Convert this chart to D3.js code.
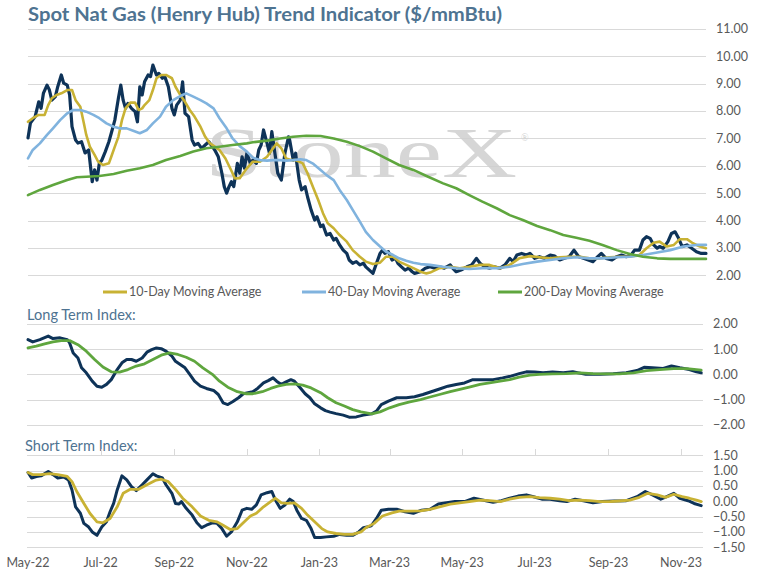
<!DOCTYPE html>
<html lang="en">
<head>
    <meta charset="UTF-8">
    <title>Spot Nat Gas Trend Indicator</title>
    <script src="https://d3js.org/d3.v7.min.js"></script>
    <style>
        body { margin: 0; background: #ffffff; }
        text { font-family: Lato, "Open Sans", sans-serif; }
    </style>
</head>
<body>
<div id="chart"></div>
<script>
// ---- data ----
var spot = [
["2022-05-01",7.02],["2022-05-03",7.56],["2022-05-07",7.80],["2022-05-10",8.34],["2022-05-12",8.10],["2022-05-14",8.66],["2022-05-17",8.95],["2022-05-19",8.77],["2022-05-21",8.40],["2022-05-24",8.53],["2022-05-26",8.89],["2022-05-29",9.32],["2022-05-31",9.02],
["2022-06-03",8.95],["2022-06-05",8.59],["2022-06-07",7.43],["2022-06-10",6.94],["2022-06-12",6.83],["2022-06-15",6.88],["2022-06-18",6.47],["2022-06-21",6.58],["2022-06-24",5.42],["2022-06-26",5.85],["2022-06-28",5.48],["2022-06-30",6.10],
["2022-07-02",6.20],["2022-07-05",6.52],["2022-07-08",6.88],["2022-07-10",7.19],["2022-07-13",7.67],["2022-07-16",8.47],["2022-07-18",8.95],["2022-07-20",8.40],["2022-07-22",8.10],["2022-07-24",8.28],["2022-07-27",8.10],["2022-07-30",7.98],
["2022-08-01",7.61],["2022-08-03",8.89],["2022-08-05",8.59],["2022-08-07",9.07],["2022-08-10",9.32],["2022-08-12",9.26],["2022-08-14",9.68],["2022-08-17",9.32],["2022-08-19",9.38],["2022-08-22",9.20],["2022-08-24",9.26],["2022-08-27",8.89],["2022-08-30",8.10],
["2022-09-01",7.86],["2022-09-03",8.22],["2022-09-06",8.40],["2022-09-08",9.07],["2022-09-10",7.92],["2022-09-13",7.80],["2022-09-16",6.94],["2022-09-18",6.76],["2022-09-21",6.82],["2022-09-24",6.64],["2022-09-27",6.76],["2022-09-30",6.88],
["2022-10-03",6.70],["2022-10-05",6.58],["2022-10-08",6.33],["2022-10-11",5.73],["2022-10-13",5.24],["2022-10-15",5.00],["2022-10-17",5.24],["2022-10-19",5.42],["2022-10-21",5.24],["2022-10-24",6.09],["2022-10-26",5.73],["2022-10-28",6.33],["2022-10-30",5.91],
["2022-11-01",6.46],["2022-11-04",6.09],["2022-11-06",6.21],["2022-11-09",6.09],["2022-11-11",6.58],["2022-11-13",6.76],["2022-11-15",7.31],["2022-11-18",6.82],["2022-11-20",6.46],["2022-11-22",7.25],["2022-11-25",6.33],["2022-11-27",5.73],["2022-11-30",5.48],
["2022-12-03",6.46],["2022-12-06",7.06],["2022-12-07",6.94],["2022-12-10",6.21],["2022-12-12",6.46],["2022-12-13",6.09],["2022-12-15",5.48],["2022-12-17",5.12],["2022-12-20",5.24],["2022-12-22",4.87],["2022-12-25",4.39],["2022-12-28",4.02],["2022-12-30",4.14],
["2023-01-02",3.78],["2023-01-04",3.84],["2023-01-07",3.47],["2023-01-10",3.53],["2023-01-13",3.29],["2023-01-15",3.35],["2023-01-18",3.11],["2023-01-21",2.92],["2023-01-24",2.80],["2023-01-26",2.56],["2023-01-29",2.44],
["2023-02-01",2.50],["2023-02-04",2.38],["2023-02-07",2.44],["2023-02-09",2.31],["2023-02-12",2.19],["2023-02-15",2.07],["2023-02-18",2.44],["2023-02-21",2.80],["2023-02-23",2.92],["2023-02-25",2.80],["2023-02-28",2.86],
["2023-03-03",2.56],["2023-03-06",2.62],["2023-03-08",2.44],["2023-03-11",2.31],["2023-03-14",2.19],["2023-03-17",2.26],["2023-03-20",2.13],["2023-03-22",2.07],["2023-03-27",2.13],["2023-03-31",2.26],
["2023-04-04",2.31],["2023-04-08",2.26],["2023-04-12",2.31],["2023-04-16",2.26],["2023-04-21",2.38],["2023-04-23",2.26],["2023-04-26",2.13],["2023-04-30",2.19],
["2023-05-05",2.31],["2023-05-09",2.38],["2023-05-13",2.62],["2023-05-16",2.44],["2023-05-20",2.31],["2023-05-24",2.26],["2023-05-28",2.31],
["2023-06-02",2.26],["2023-06-06",2.38],["2023-06-10",2.62],["2023-06-13",2.50],["2023-06-16",2.74],["2023-06-20",2.80],["2023-06-24",2.74],["2023-06-27",2.80],
["2023-07-01",2.62],["2023-07-05",2.68],["2023-07-09",2.62],["2023-07-14",2.74],["2023-07-18",2.70],["2023-07-22",2.56],["2023-07-26",2.62],["2023-07-30",2.68],
["2023-08-03",2.92],["2023-08-07",2.68],["2023-08-11",2.62],["2023-08-15",2.56],["2023-08-19",2.50],["2023-08-23",2.68],["2023-08-26",2.80],["2023-08-30",2.62],
["2023-09-04",2.56],["2023-09-08",2.68],["2023-09-12",2.74],["2023-09-16",2.68],["2023-09-20",2.74],["2023-09-23",2.92],["2023-09-27",2.92],["2023-09-30",3.29],
["2023-10-03",3.41],["2023-10-06",3.35],["2023-10-09",3.11],["2023-10-12",2.99],["2023-10-14",3.05],["2023-10-17",2.99],["2023-10-21",3.23],["2023-10-24",3.53],["2023-10-27",3.59],["2023-10-30",3.35],
["2023-11-02",3.05],["2023-11-06",3.11],["2023-11-10",2.99],["2023-11-14",2.86],["2023-11-18",2.80],["2023-11-22",2.80]
];

var ma10 = [
["2022-05-01",7.61],["2022-05-05",7.74],["2022-05-10",7.86],["2022-05-12",7.86],["2022-05-15",7.86],["2022-05-18",8.22],["2022-05-21",8.47],["2022-05-25",8.59],["2022-05-29",8.65],
["2022-06-03",8.77],["2022-06-07",8.77],["2022-06-10",8.40],["2022-06-14",8.16],["2022-06-17",7.55],["2022-06-19",7.13],["2022-06-22",6.70],["2022-06-26",6.40],["2022-06-29",6.15],
["2022-07-03",6.03],["2022-07-08",6.09],["2022-07-10",6.33],["2022-07-13",6.70],["2022-07-16",7.06],["2022-07-19",7.67],["2022-07-22",8.10],["2022-07-26",8.31],["2022-07-30",8.31],
["2022-08-02",8.04],["2022-08-05",8.10],["2022-08-07",8.22],["2022-08-11",8.40],["2022-08-14",8.77],["2022-08-17",9.20],["2022-08-21",9.32],["2022-08-25",9.32],["2022-08-30",9.20],
["2022-09-02",8.89],["2022-09-06",8.59],["2022-09-10",8.34],["2022-09-14",8.04],["2022-09-18",7.80],["2022-09-23",7.43],["2022-09-27",7.06],
["2022-10-01",6.82],["2022-10-05",6.70],["2022-10-09",6.58],["2022-10-14",6.27],["2022-10-18",5.91],["2022-10-22",5.54],["2022-10-26",5.55],
["2022-11-01",5.91],["2022-11-06",6.15],["2022-11-12",6.15],["2022-11-18",6.33],["2022-11-22",6.58],["2022-11-26",6.82],["2022-11-30",6.64],
["2022-12-04",6.27],["2022-12-08",6.21],["2022-12-12",6.21],["2022-12-18",6.09],["2022-12-22",5.73],["2022-12-27",5.18],["2022-12-31",4.75],
["2023-01-04",4.27],["2023-01-08",3.90],["2023-01-13",3.72],["2023-01-18",3.47],["2023-01-24",3.23],["2023-01-29",2.92],
["2023-02-04",2.68],["2023-02-09",2.50],["2023-02-15",2.41],["2023-02-21",2.46],["2023-02-26",2.68],
["2023-03-04",2.68],["2023-03-09",2.50],["2023-03-15",2.38],["2023-03-21",2.26],["2023-03-27",2.13],
["2023-04-01",2.07],["2023-04-04",2.10],["2023-04-12",2.26],["2023-04-21",2.31],["2023-04-29",2.26],
["2023-05-07",2.31],["2023-05-16",2.38],["2023-05-24",2.38],["2023-06-02",2.26],["2023-06-10",2.38],["2023-06-18",2.62],["2023-06-27",2.70],
["2023-07-05",2.66],["2023-07-14",2.62],["2023-07-22",2.66],["2023-07-30",2.68],["2023-08-08",2.68],["2023-08-16",2.62],["2023-08-25",2.62],
["2023-09-02",2.66],["2023-09-10",2.68],["2023-09-19",2.68],["2023-09-27",2.74],
["2023-10-03",2.99],["2023-10-09",3.19],["2023-10-14",3.23],["2023-10-20",3.05],["2023-10-26",3.11],["2023-10-31",3.32],
["2023-11-06",3.32],["2023-11-11",3.17],["2023-11-17",3.05],["2023-11-22",2.99]
];

var ma40 = [
["2022-05-01",6.27],["2022-05-05",6.58],["2022-05-11",6.82],["2022-05-17",7.13],["2022-05-22",7.37],["2022-05-28",7.67],
["2022-06-03",7.92],["2022-06-08",8.04],["2022-06-14",8.04],["2022-06-19",7.98],["2022-06-25",7.86],["2022-06-30",7.74],
["2022-07-06",7.55],["2022-07-12",7.43],["2022-07-17",7.37],["2022-07-23",7.37],["2022-07-29",7.27],
["2022-08-03",7.19],["2022-08-09",7.31],["2022-08-14",7.55],["2022-08-20",7.80],["2022-08-25",8.16],["2022-08-31",8.40],
["2022-09-06",8.55],["2022-09-11",8.65],["2022-09-17",8.53],["2022-09-23",8.40],["2022-09-28",8.28],
["2022-10-04",8.10],["2022-10-09",7.74],["2022-10-15",7.37],["2022-10-20",7.00],["2022-10-26",6.72],
["2022-11-01",6.52],["2022-11-06",6.30],["2022-11-12",6.21],["2022-11-18",6.19],["2022-11-23",6.21],["2022-11-29",6.21],
["2022-12-04",6.19],["2022-12-10",6.21],["2022-12-16",6.24],["2022-12-21",6.21],["2022-12-27",6.07],
["2023-01-02",5.85],["2023-01-07",5.66],["2023-01-13",5.48],["2023-01-18",5.12],["2023-01-24",4.75],["2023-01-29",4.39],
["2023-02-04",3.96],["2023-02-09",3.59],["2023-02-15",3.29],["2023-02-21",3.05],["2023-02-26",2.86],
["2023-03-04",2.74],["2023-03-09",2.62],["2023-03-15",2.53],["2023-03-21",2.46],["2023-03-27",2.41],
["2023-04-04",2.38],["2023-04-15",2.31],["2023-04-26",2.26],["2023-05-07",2.23],["2023-05-18",2.26],["2023-05-30",2.26],
["2023-06-10",2.31],["2023-06-21",2.41],["2023-07-03",2.50],["2023-07-14",2.56],["2023-07-25",2.62],
["2023-08-05",2.66],["2023-08-16",2.62],["2023-08-27",2.62],["2023-09-08",2.66],["2023-09-19",2.68],["2023-09-30",2.74],
["2023-10-12",2.83],["2023-10-23",2.92],["2023-11-03",3.05],["2023-11-14",3.11],["2023-11-22",3.11]
];

var ma200 = [
["2022-05-01",4.93],["2022-05-11",5.12],["2022-05-22",5.30],["2022-06-03",5.48],["2022-06-11",5.58],["2022-06-19",5.60],["2022-06-30",5.63],
["2022-07-12",5.70],["2022-07-23",5.82],["2022-08-03",5.91],["2022-08-14",6.03],["2022-08-25",6.21],["2022-09-06",6.36],["2022-09-17",6.52],["2022-09-28",6.64],
["2022-10-09",6.70],["2022-10-20",6.76],["2022-11-01",6.82],["2022-11-06",6.86],["2022-11-18",6.92],["2022-11-29",7.00],["2022-12-10",7.06],["2022-12-21",7.10],
["2023-01-02",7.09],["2023-01-13",7.00],["2023-01-24",6.88],["2023-02-04",6.72],["2023-02-15",6.52],["2023-02-26",6.27],["2023-03-09",6.03],["2023-03-21",5.85],
["2023-04-01",5.63],["2023-04-15",5.36],["2023-04-26",5.18],["2023-05-07",4.93],["2023-05-18",4.69],["2023-05-30",4.45],["2023-06-10",4.20],["2023-06-21",4.02],
["2023-07-03",3.80],["2023-07-14",3.65],["2023-07-25",3.47],["2023-08-05",3.37],["2023-08-16",3.26],["2023-08-27",3.11],["2023-09-08",2.92],["2023-09-19",2.78],["2023-09-30",2.68],
["2023-10-12",2.62],["2023-10-23",2.60],["2023-11-03",2.60],["2023-11-22",2.60]
];

var longIndex = [
["2022-05-01",1.38],["2022-05-05",1.29],["2022-05-11",1.38],["2022-05-18",1.52],["2022-05-22",1.42],["2022-05-28",1.45],
["2022-06-03",1.38],["2022-06-05",1.25],["2022-06-08",0.85],["2022-06-12",0.65],["2022-06-15",0.26],["2022-06-19",0.06],["2022-06-24",-0.27],["2022-06-28",-0.47],
["2022-07-02",-0.51],["2022-07-06",-0.40],["2022-07-10",-0.21],["2022-07-15",0.19],["2022-07-19",0.46],["2022-07-23",0.59],["2022-07-27",0.59],["2022-07-31",0.52],
["2022-08-05",0.65],["2022-08-09",0.88],["2022-08-13",0.98],["2022-08-17",1.05],["2022-08-21",1.02],["2022-08-25",0.92],["2022-08-30",0.72],
["2022-09-02",0.52],["2022-09-06",0.39],["2022-09-10",0.26],["2022-09-14",0.00],["2022-09-18",-0.27],["2022-09-23",-0.47],["2022-09-28",-0.56],
["2022-10-04",-0.64],["2022-10-08",-0.80],["2022-10-12",-1.13],["2022-10-16",-1.20],["2022-10-20",-1.09],["2022-10-25",-0.93],["2022-10-29",-0.77],
["2022-11-02",-0.73],["2022-11-06",-0.69],["2022-11-10",-0.56],["2022-11-15",-0.34],["2022-11-19",-0.25],["2022-11-23",-0.14],["2022-11-26",-0.27],["2022-11-30",-0.40],
["2022-12-04",-0.30],["2022-12-08",-0.21],["2022-12-11",-0.27],["2022-12-16",-0.54],["2022-12-20",-0.77],["2022-12-24",-0.93],["2022-12-28",-1.17],
["2023-01-02",-1.33],["2023-01-06",-1.44],["2023-01-10",-1.50],["2023-01-15",-1.56],["2023-01-21",-1.62],["2023-01-26",-1.70],
["2023-02-01",-1.69],["2023-02-07",-1.62],["2023-02-14",-1.57],["2023-02-18",-1.46],["2023-02-22",-1.20],["2023-02-28",-1.06],
["2023-03-07",-0.93],["2023-03-15",-0.93],["2023-03-22",-0.89],["2023-03-29",-0.80],["2023-04-05",-0.69],["2023-04-12",-0.58],["2023-04-19",-0.47],["2023-04-26",-0.40],
["2023-05-03",-0.34],["2023-05-10",-0.21],["2023-05-18",-0.21],["2023-05-27",-0.21],["2023-06-04",-0.14],["2023-06-11",-0.07],["2023-06-18",0.03],["2023-06-24",0.10],
["2023-07-01",0.09],["2023-07-08",0.06],["2023-07-16",0.09],["2023-07-25",0.06],["2023-08-02",0.10],["2023-08-13",0.00],["2023-08-25",0.00],
["2023-09-05",0.02],["2023-09-16",0.06],["2023-09-25",0.15],["2023-10-01",0.28],["2023-10-08",0.26],["2023-10-17",0.23],["2023-10-24",0.33],["2023-10-31",0.26],
["2023-11-08",0.19],["2023-11-14",0.10],["2023-11-18",0.06]
];

var longSignal = [
["2022-05-01",1.05],["2022-05-08",1.12],["2022-05-15",1.21],["2022-05-22",1.29],["2022-05-29",1.34],["2022-06-05",1.34],["2022-06-12",1.18],["2022-06-19",0.92],["2022-06-26",0.59],
["2022-07-03",0.29],["2022-07-10",0.10],["2022-07-17",0.09],["2022-07-24",0.19],["2022-07-31",0.33],["2022-08-07",0.42],["2022-08-14",0.59],["2022-08-21",0.76],["2022-08-28",0.85],
["2022-09-04",0.79],["2022-09-11",0.68],["2022-09-18",0.52],["2022-09-25",0.26],["2022-10-03",0.00],["2022-10-09",-0.27],["2022-10-16",-0.51],["2022-10-24",-0.69],["2022-10-31",-0.77],
["2022-11-06",-0.77],["2022-11-14",-0.69],["2022-11-21",-0.56],["2022-11-27",-0.47],["2022-12-04",-0.40],["2022-12-11",-0.38],["2022-12-18",-0.43],["2022-12-25",-0.54],
["2023-01-02",-0.73],["2023-01-08",-0.93],["2023-01-15",-1.13],["2023-01-22",-1.26],["2023-01-29",-1.40],["2023-02-05",-1.49],["2023-02-14",-1.57],["2023-02-21",-1.49],
["2023-03-01",-1.33],["2023-03-09",-1.20],["2023-03-18",-1.09],["2023-03-27",-1.00],["2023-04-04",-0.90],["2023-04-12",-0.80],["2023-04-21",-0.69],["2023-04-29",-0.60],
["2023-05-07",-0.51],["2023-05-16",-0.40],["2023-05-24",-0.34],["2023-06-02",-0.27],["2023-06-10",-0.21],["2023-06-18",-0.11],["2023-06-27",-0.03],
["2023-07-05",0.00],["2023-07-16",0.02],["2023-07-28",0.03],["2023-08-08",0.06],["2023-08-19",0.03],["2023-08-30",0.02],["2023-09-10",0.02],["2023-09-22",0.06],
["2023-10-03",0.15],["2023-10-14",0.19],["2023-10-26",0.23],["2023-11-06",0.23],["2023-11-14",0.19],["2023-11-18",0.17]
];

var shortIndex = [
["2022-05-01",0.94],["2022-05-04",0.76],["2022-05-08",0.81],["2022-05-12",0.83],["2022-05-18",0.97],["2022-05-22",0.87],["2022-05-26",0.76],["2022-05-31",0.79],
["2022-06-04",0.70],["2022-06-07",0.37],["2022-06-10",-0.18],["2022-06-14",-0.39],["2022-06-17",-0.72],["2022-06-21",-0.84],["2022-06-24",-1.00],["2022-06-28",-1.11],
["2022-07-02",-0.84],["2022-07-06",-0.67],["2022-07-09",-0.34],["2022-07-12",-0.07],["2022-07-15",0.37],["2022-07-19",0.83],["2022-07-23",0.70],["2022-07-27",0.48],["2022-07-31",0.35],
["2022-08-05",0.54],["2022-08-09",0.70],["2022-08-14",0.90],["2022-08-17",0.83],["2022-08-22",0.76],["2022-08-25",0.54],["2022-08-30",0.26],
["2022-09-02",-0.07],["2022-09-05",-0.09],["2022-09-07",-0.01],["2022-09-11",-0.23],["2022-09-16",-0.45],["2022-09-20",-0.70],["2022-09-24",-0.86],["2022-09-28",-0.78],
["2022-10-03",-0.70],["2022-10-07",-0.72],["2022-10-11",-0.89],["2022-10-15",-1.14],["2022-10-19",-1.00],["2022-10-24",-0.67],["2022-10-28",-0.29],
["2022-11-01",-0.23],["2022-11-05",-0.26],["2022-11-09",-0.12],["2022-11-13",0.21],["2022-11-18",0.28],["2022-11-22",0.32],["2022-11-25",0.04],["2022-11-29",-0.23],
["2022-12-03",-0.12],["2022-12-07",0.07],["2022-12-10",-0.01],["2022-12-13",-0.29],["2022-12-17",-0.56],["2022-12-21",-0.62],["2022-12-25",-0.89],["2022-12-28",-1.18],
["2023-01-02",-1.18],["2023-01-07",-1.16],["2023-01-13",-1.14],["2023-01-18",-1.08],["2023-01-24",-1.11],["2023-01-29",-1.11],
["2023-02-03",-1.00],["2023-02-07",-0.86],["2023-02-13",-0.81],["2023-02-14",-0.78],["2023-02-18",-0.56],["2023-02-22",-0.29],["2023-02-28",-0.26],
["2023-03-07",-0.26],["2023-03-14",-0.34],["2023-03-21",-0.39],["2023-03-28",-0.29],["2023-04-04",-0.26],["2023-04-11",-0.09],["2023-04-18",-0.05],["2023-04-25",-0.01],
["2023-05-03",-0.01],["2023-05-11",0.10],["2023-05-18",0.04],["2023-05-27",-0.03],["2023-06-03",0.02],["2023-06-10",0.10],["2023-06-17",0.17],["2023-06-24",0.21],["2023-06-30",0.15],
["2023-07-07",0.07],["2023-07-14",0.07],["2023-07-22",0.02],["2023-07-28",-0.01],["2023-08-04",0.07],["2023-08-11",0.02],["2023-08-19",-0.05],["2023-08-27",-0.01],
["2023-09-06",0.01],["2023-09-16",0.02],["2023-09-25",0.15],["2023-10-02",0.32],["2023-10-08",0.21],["2023-10-15",0.07],["2023-10-20",0.15],["2023-10-26",0.26],["2023-10-31",0.10],
["2023-11-07",0.02],["2023-11-12",-0.07],["2023-11-18",-0.14]
];

var shortSignal = [
["2022-05-01",0.94],["2022-05-05",0.87],["2022-05-12",0.87],["2022-05-19",0.90],["2022-05-26",0.87],["2022-06-03",0.81],["2022-06-07",0.64],["2022-06-11",0.32],
["2022-06-17",-0.07],["2022-06-22",-0.39],["2022-06-28",-0.67],["2022-07-03",-0.70],["2022-07-09",-0.56],["2022-07-15",-0.18],["2022-07-20",0.26],["2022-07-26",0.39],
["2022-08-02",0.39],["2022-08-09",0.54],["2022-08-16",0.68],["2022-08-21",0.72],["2022-08-27",0.64],["2022-09-02",0.39],["2022-09-08",0.10],["2022-09-16",-0.18],
["2022-09-23",-0.48],["2022-09-30",-0.62],["2022-10-07",-0.67],["2022-10-12",-0.78],["2022-10-18",-0.92],["2022-10-24",-0.89],["2022-10-29",-0.70],
["2022-11-04",-0.48],["2022-11-09",-0.39],["2022-11-15",-0.18],["2022-11-21",-0.01],["2022-11-25",0.10],["2022-11-30",-0.05],
["2022-12-05",-0.07],["2022-12-11",-0.05],["2022-12-17",-0.23],["2022-12-22",-0.45],["2022-12-28",-0.67],
["2023-01-03",-0.89],["2023-01-08",-1.00],["2023-01-15",-1.05],["2023-01-22",-1.08],["2023-01-29",-1.08],["2023-02-05",-1.00],["2023-02-09",-0.86],["2023-02-16",-0.72],["2023-02-23",-0.48],
["2023-03-03",-0.38],["2023-03-09",-0.32],["2023-03-18",-0.32],["2023-03-27",-0.31],["2023-04-04",-0.26],["2023-04-12",-0.18],["2023-04-21",-0.09],["2023-04-29",-0.05],
["2023-05-07",-0.01],["2023-05-16",0.04],["2023-05-24",0.02],["2023-06-02",-0.01],["2023-06-10",0.07],["2023-06-18",0.13],["2023-06-27",0.15],
["2023-07-05",0.12],["2023-07-14",0.10],["2023-07-22",0.07],["2023-07-30",0.02],["2023-08-08",0.04],["2023-08-16",0.02],["2023-08-25",-0.01],
["2023-09-02",-0.01],["2023-09-10",0.01],["2023-09-19",0.04],["2023-09-27",0.13],["2023-10-04",0.26],["2023-10-12",0.21],["2023-10-19",0.13],["2023-10-26",0.23],
["2023-11-02",0.15],["2023-11-08",0.10],["2023-11-14",0.04],["2023-11-18",-0.01]
];

var priceTicks = [2, 3, 4, 5, 6, 7, 8, 9, 10, 11];
var longTicks = [-2, -1, 0, 1, 2];
var shortTicks = [-1.5, -1, -0.5, 0, 0.5, 1, 1.5];
var dateTicks = ["2022-05-01","2022-07-01","2022-09-01","2022-11-01","2023-01-01","2023-03-01","2023-05-01","2023-07-01","2023-09-01","2023-11-01"];
var legendNames = ["10-Day Moving Average", "40-Day Moving Average", "200-Day Moving Average"];

// ---- drawing ----
var width = 758, height = 576;
var parse = d3.timeParse("%Y-%m-%d");
var navy = "#0e3358", gold = "#c8b234", blue = "#80b3de", green = "#5fa63e";
var grid = "#d9d9d9", labelColor = "#595959", headColor = "#4e7391";

var svg = d3.select("#chart").append("svg")
    .attr("width", width)
    .attr("height", height);

var x = d3.scaleTime()
    .domain([parse("2022-05-01"), parse("2023-11-01")])
    .range([28, 681]);

var yPrice = d3.scaleLinear().domain([2, 11]).range([275.3, 29]);
var yLong = d3.scaleLinear().domain([-2, 2]).range([424.7, 324]);
var yShort = d3.scaleLinear().domain([-1.5, 1.5]).range([547.3, 455.3]);

function gridLines(scale, ticks, x0, x1, labelX) {
    var g = svg.append("g");
    g.selectAll("line").data(ticks).enter().append("line")
        .attr("x1", x0).attr("x2", x1)
        .attr("y1", function (d) { return Math.round(scale(d)) + 0.5; })
        .attr("y2", function (d) { return Math.round(scale(d)) + 0.5; })
        .attr("stroke", grid)
        .attr("stroke-width", 1);
    g.selectAll("text").data(ticks).enter().append("text")
        .attr("x", labelX)
        .attr("y", function (d) { return scale(d); })
        .attr("dy", "0.35em")
        .style("font-size", "12.5px")
        .style("fill", labelColor)
        .text(function (d) { return d3.format(".2f")(d); });
}

function drawLine(data, scale, color, w) {
    var line = d3.line()
        .x(function (d) { return x(parse(d[0])); })
        .y(function (d) { return scale(d[1]); });
    svg.append("path")
        .datum(data)
        .attr("d", line)
        .attr("fill", "none")
        .attr("stroke", color)
        .attr("stroke-width", w)
        .attr("stroke-linejoin", "round")
        .attr("stroke-linecap", "round");
}

// title
svg.append("text")
    .attr("x", 28)
    .attr("y", 21)
    .attr("textLength", 474)
    .attr("lengthAdjust", "spacingAndGlyphs")
    .style("font-size", "19px")
    .style("font-weight", "bold")
    .style("fill", headColor)
    .text("Spot Nat Gas (Henry Hub) Trend Indicator ($/mmBtu)");

// top chart
gridLines(yPrice, priceTicks, 28, 706, 716);

// watermark
svg.append("text")
    .attr("x", 205)
    .attr("y", 177)
    .attr("textLength", 312)
    .attr("lengthAdjust", "spacingAndGlyphs")
    .style("font-family", "'Liberation Serif', 'DejaVu Serif', serif")
    .style("font-size", "72px")
    .style("fill", "#cfcfcf")
    .style("opacity", 0.85)
    .text("StoneX");
svg.append("text")
    .attr("x", 521)
    .attr("y", 141)
    .style("font-family", "'Liberation Serif', serif")
    .style("font-size", "10px")
    .style("fill", "#d0d0d0")
    .text("\u00AE");

drawLine(spot, yPrice, navy, 3.2);
drawLine(ma10, yPrice, gold, 2.6);
drawLine(ma40, yPrice, blue, 2.6);
drawLine(ma200, yPrice, green, 2.6);

// legend
var legendColors = [gold, blue, green];
var legendX = [103, 302, 498];
var legend = svg.append("g");
legendNames.forEach(function (name, i) {
    legend.append("line")
        .attr("x1", legendX[i]).attr("x2", legendX[i] + 24)
        .attr("y1", 292).attr("y2", 292)
        .attr("stroke", legendColors[i])
        .attr("stroke-width", 3);
    legend.append("text")
        .attr("x", legendX[i] + 26)
        .attr("y", 292)
        .attr("dy", "0.35em")
        .style("font-size", "12.5px")
        .style("fill", labelColor)
        .text(name);
});

// long term index
svg.append("text")
    .attr("x", 27)
    .attr("y", 320)
    .style("font-size", "14.6px")
    .style("fill", headColor)
    .text("Long Term Index:");
gridLines(yLong, longTicks, 27, 703, 713);
drawLine(longIndex, yLong, navy, 3);
drawLine(longSignal, yLong, green, 2.8);

// short term index
svg.append("text")
    .attr("x", 25)
    .attr("y", 451)
    .style("font-size", "14.6px")
    .style("fill", headColor)
    .text("Short Term Index:");
gridLines(yShort, shortTicks, 27, 703, 713);

svg.append("g").selectAll("line")
    .data(dateTicks.slice(1))
    .enter().append("line")
    .attr("x1", function (d) { return Math.round(x(parse(d))) + 0.5; })
    .attr("x2", function (d) { return Math.round(x(parse(d))) + 0.5; })
    .attr("y1", Math.round(yShort(1.5)))
    .attr("y2", Math.round(yShort(1.5)) - 6)
    .attr("stroke", grid)
    .attr("stroke-width", 1);

drawLine(shortIndex, yShort, navy, 3);
drawLine(shortSignal, yShort, gold, 2.8);

// date labels
svg.append("g").selectAll("text")
    .data(dateTicks)
    .enter().append("text")
    .attr("x", function (d) { return x(parse(d)); })
    .attr("y", 563)
    .attr("dy", "0.35em")
    .attr("text-anchor", "middle")
    .style("font-size", "12.5px")
    .style("fill", labelColor)
    .text(function (d) { return d3.timeFormat("%b-%y")(parse(d)); });
</script>
</body>
</html>
